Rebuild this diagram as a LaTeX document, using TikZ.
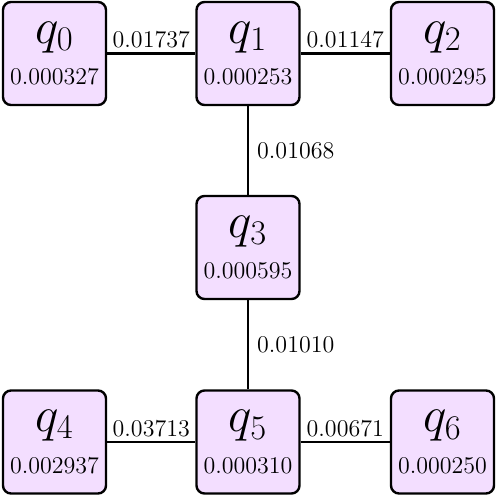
\documentclass[tikz,border=0pt]{standalone}
\definecolor{qfill}{RGB}{243,222,255}
\begin{document}
\begin{tikzpicture}[x=0.5pt,y=-0.5pt,
  qbox/.style={draw, line width=1.2pt, rounded corners=4pt, fill=qfill,
    minimum width=51.5pt, minimum height=51.5pt, align=center, inner sep=0pt},
  link/.style={line width=1.2pt},
  lab/.style={font=\large, inner sep=2pt}]
\useasboundingbox (0,0) rectangle (498,498);
\newcommand{\qcontent}[2]{{\fontsize{23}{23}\selectfont$q_{#1}$}\\[7pt]{\large #2}}
\node[qbox] (q0) at (54.5,53.5) {\qcontent{0}{0.000327}};
\node[qbox] (q1) at (248,53.5) {\qcontent{1}{0.000253}};
\node[qbox] (q2) at (442.5,53.5) {\qcontent{2}{0.000295}};
\node[qbox] (q3) at (248,247.5) {\qcontent{3}{0.000595}};
\node[qbox] (q4) at (54.5,442) {\qcontent{4}{0.002937}};
\node[qbox] (q5) at (248,442) {\qcontent{5}{0.000310}};
\node[qbox] (q6) at (442.5,442) {\qcontent{6}{0.000250}};
\draw[link] (q0) -- node[lab, above] {0.01737} (q1);
\draw[link] (q1) -- node[lab, above] {0.01147} (q2);
\draw[link] (q1) -- node[lab, right, xshift=2pt] {0.01068} (q3);
\draw[link] (q3) -- node[lab, right, xshift=2pt] {0.01010} (q5);
\draw[link] (q4) -- node[lab, above] {0.03713} (q5);
\draw[link] (q5) -- node[lab, above] {0.00671} (q6);
\end{tikzpicture}
\end{document}
